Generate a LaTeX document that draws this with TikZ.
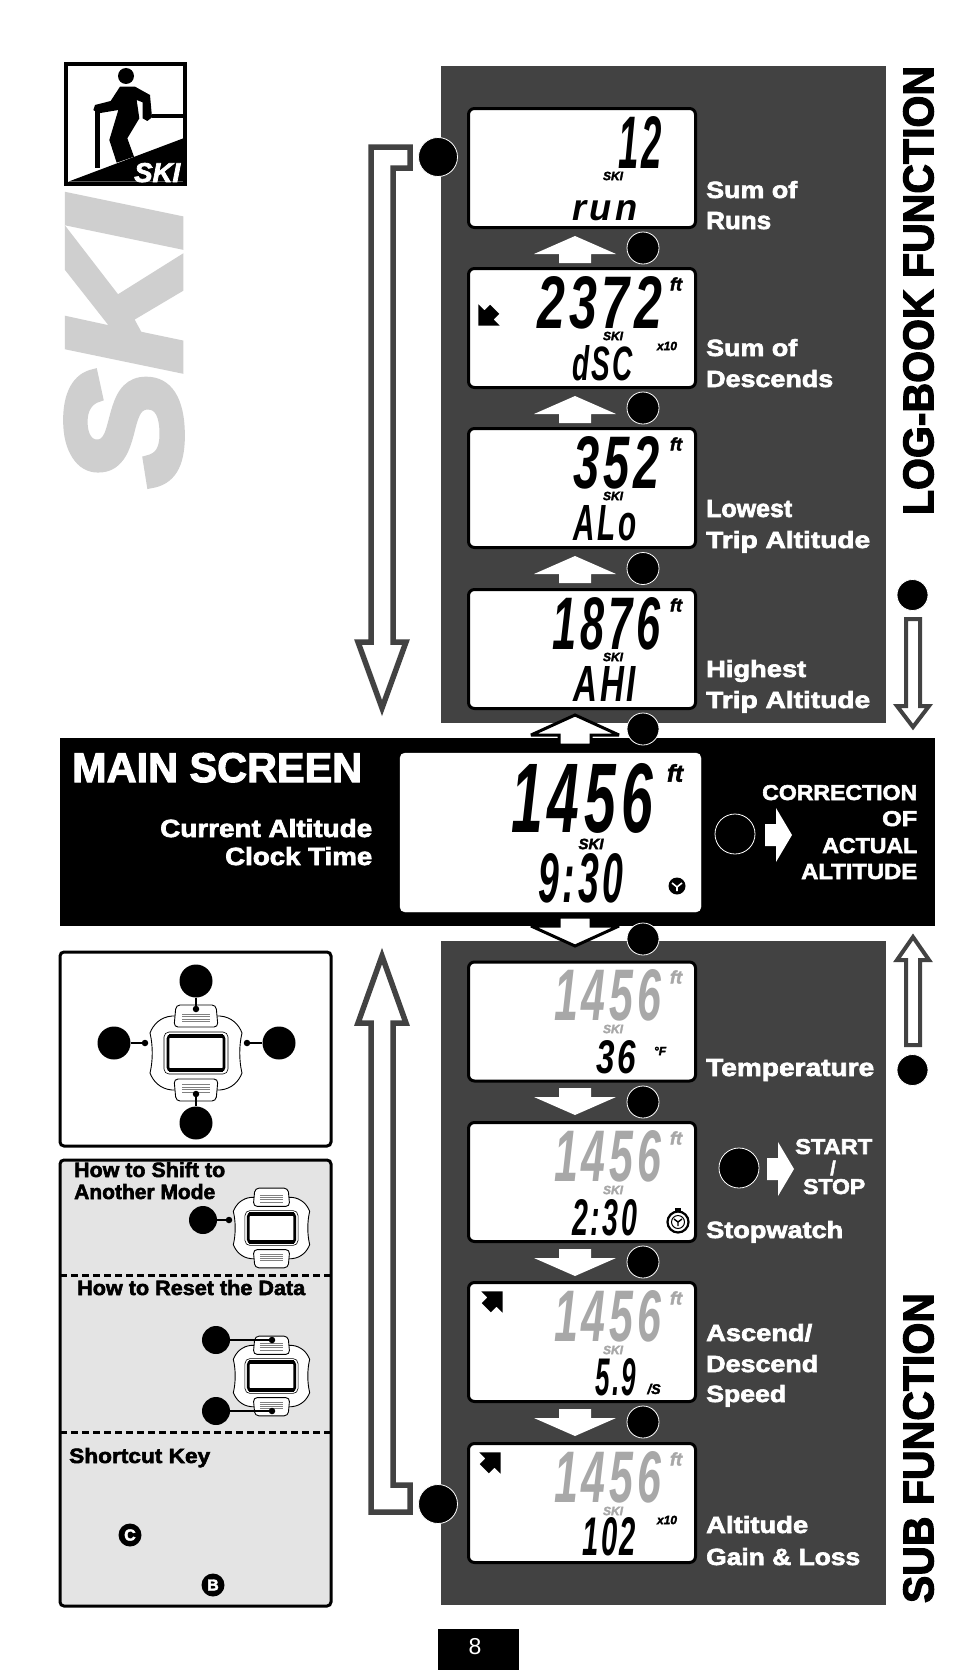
\documentclass[tikz,border=0pt]{standalone}
\usepackage{graphicx}
\usepackage{fontspec}
\setmainfont{Liberation Sans}
\newfontfamily\blk[UprightFont={* Bold},FakeBold=2.6]{Liberation Sans}
\newfontfamily\blkit[UprightFont={* Bold Italic},FakeBold=2.5]{Liberation Sans}
\newfontfamily\heavyit[UprightFont={* Bold Italic},FakeBold=5]{Liberation Sans}
\newfontfamily\lcdf[UprightFont={* Bold Italic},LetterSpace=9]{Liberation Sans}
\definecolor{panel}{HTML}{424242}
\definecolor{lcdgrey}{HTML}{A8A8A8}
\definecolor{boxgrey}{HTML}{E4E4E4}
\definecolor{skigrey}{HTML}{CFCFCF}
\newcount\nn
% left, baseline, width, height, style, text
\newcommand\ftxt[6]{\global\advance\nn by 1 \node[inner sep=0,anchor=base west,#5,name=t\the\nn] at (#1,#2) {\resizebox{#3pt}{#4pt}{#6}};}
\newcommand\ctxt[5]{\global\advance\nn by 1 \node[inner sep=0,anchor=center,#4,name=t\the\nn] at (#1,#2) {\fontsize{#3}{#3}\selectfont #5};}
\newcommand\lcdbox[2]{\node[lcdframe] (#1) at (582,#2) {};}
\newcommand\uparr[1]{\fill[white,shift={(575,#1)}] (0,0) -- (41,18) -- (16,18) -- (16,27) -- (-16,27) -- (-16,18) -- (-41,18) -- cycle;}
\newcommand\dnarr[1]{\fill[white,shift={(575,#1)},yscale=-1] (0,0) -- (41,18) -- (16,18) -- (16,27) -- (-16,27) -- (-16,18) -- (-41,18) -- cycle;}
\newcommand\rtarr[2]{\fill[white,shift={(#1,#2)}] (27,0) -- (11,-27) -- (11,-11) -- (0,-11) -- (0,11) -- (11,11) -- (11,27) -- cycle;}
\newcommand\lcdarrow[3]{\fill[black,shift={(#1,#2)},rotate=#3] (15,0) -- (0,15) -- (0,6.5) -- (-8,6.5) -- (-8,-6.5) -- (0,-6.5) -- (0,-15) -- cycle;}
\newcommand\watch[3]{%
\begin{scope}[shift={(#1,#2)},scale=#3]
\draw[fill=white,line width=.9] (-24,-37) .. controls (-36,-36) and (-43,-28) .. (-46,-20) .. controls (-43,-8) and (-43,8) .. (-46,20) .. controls (-43,28) and (-36,36) .. (-24,37) -- (24,37) .. controls (36,36) and (43,28) .. (46,20) .. controls (43,8) and (43,-8) .. (46,-20) .. controls (43,-28) and (36,-36) .. (24,-37) -- cycle;
\draw[fill=white,line width=.6,rounded corners=5] (-32,-21) rectangle (32,21);
\draw[line width=2.6,rounded corners=3] (-28,-17.5) rectangle (28,17.5);
\fill (-27,-19) rectangle (27,-15); \fill (-27,15) rectangle (27,19);
\foreach \s in {-1,1}{
\begin{scope}[yscale=\s]
\draw[fill=white,line width=.9,rounded corners=4] (-20,-48) -- (20,-48) -- (22,-26) -- (-22,-26) -- cycle;
\foreach \yy in {-39,-36.5,-34,-31.5} \draw[line width=.7,gray] (-14,\yy) -- (14,\yy);
\end{scope}}
\end{scope}}
\tikzset{
  x=1pt,y=-1pt,
  panelfill/.style={fill=panel},
  lcdframe/.style={draw=black,fill=white,line width=3,rounded corners=6,minimum width=227,minimum height=119,inner sep=0},
  btn/.style={circle,fill=black,draw=white,line width=.8,inner sep=0,minimum size=#1},
  blob/.style={circle,fill=black,inner sep=0,minimum size=#1},
  dot/.style={circle,fill=black,inner sep=0,minimum size=6.5},
  wire/.style={line width=1.4,black},
  hollow/.style={draw=panel,fill=white,miter limit=10},
  labw/.style={font=\blk,text=white},
  labk/.style={font=\blk,text=black},
  lcdk/.style={font=\lcdf,text=black},
  lcdg/.style={font=\lcdf,text=lcdgrey},
  smk/.style={font=\blkit,text=black},
  smg/.style={font=\blkit,text=lcdgrey},
}
\begin{document}
\begin{tikzpicture}
\useasboundingbox (0,0) rectangle (954,1670);
\fill[white] (0,0) rectangle (954,1670);
% panels
\fill[panelfill] (441,66) rectangle (886,723);
\fill[panelfill] (441,941) rectangle (886,1605);
% big grey title first, so the icon lies above it
\node[inner sep=0,rotate=90,font=\heavyit,text=skigrey] (bigski) at (124,343) {\resizebox{286pt}{112pt}{SKI}};
% ski icon
\draw[line width=4,fill=white] (66,64) rectangle (185,184);
\begin{scope}[shift={(40,40)},scale=1/3]
\fill (85,425) -- (430,295) -- (430,425) -- cycle;
\fill (258,108) circle (24);
\fill (240,140) -- (285,140) -- (330,165) -- (336,232) -- (322,243) -- (308,235) -- (308,187) -- (290,180) -- (298,235) -- (262,295) -- (282,350) -- (230,368) -- (208,300) -- (235,210) -- (175,220) -- (160,210) -- (165,195) -- (212,183) -- cycle;
\draw[line width=5] (172,205) -- (172,385);
\draw[line width=4] (336,228) -- (430,228);
\end{scope}
\ftxt{134}{182}{46}{19}{font=\blkit,text=white}{SKI}
% big hollow arrows
\draw[hollow,line width=5.5] (371,147) -- (410,147) -- (410,168) -- (393,168) -- (393,642) -- (406,642) -- (382,708) -- (358,642) -- (371,642) -- cycle;
\draw[hollow,line width=5.5] (371,1512) -- (410,1512) -- (410,1485) -- (393,1485) -- (393,1023) -- (406,1023) -- (382,956) -- (358,1023) -- (371,1023) -- cycle;
\node[btn=39] (bigtop) at (438,157) {};
\node[btn=39] (bigbot) at (438,1504) {};
% small hollow arrows
\draw[hollow,line width=4] (906,619) -- (920,619) -- (920,706) -- (929,706) -- (913,727) -- (897,706) -- (906,706) -- cycle;
\draw[hollow,line width=4] (906,1045) -- (920,1045) -- (920,960) -- (929,960) -- (913,937) -- (897,960) -- (906,960) -- cycle;
\node[btn=31] (rtop) at (912.5,595) {};
\node[btn=31] (rbot) at (912.5,1070) {};
% main band
\fill[black] (60,738) rectangle (935,926);
\draw[white,fill=white,rounded corners=5] (400,753) rectangle (701,912);
% outlined arrows at the band
\draw[draw=black,fill=white,line width=3,miter limit=3,shift={(575,715)}] (0,0) -- (44,20) -- (16,20) -- (16,30) -- (-16,30) -- (-16,20) -- (-44,20) -- cycle;
\draw[draw=black,fill=white,line width=3,miter limit=3,shift={(575,946)},yscale=-1] (0,0) -- (44,20) -- (16,20) -- (16,29) -- (-16,29) -- (-16,20) -- (-44,20) -- cycle;
\node[btn=32] at (643,729) {};
\node[btn=32] at (643,939) {};
% LCD frames
\lcdbox{l1}{168}\lcdbox{l2}{328}\lcdbox{l3}{488}\lcdbox{l4}{649}
\lcdbox{l5}{1021.5}\lcdbox{l6}{1182}\lcdbox{l7}{1342}\lcdbox{l8}{1503}
% up arrows / buttons
\uparr{236}\uparr{396}\uparr{556}
\node[btn=32] at (643,248) {};
\node[btn=32] at (643,408) {};
\node[btn=32] at (643,568.5) {};
\dnarr{1115}\dnarr{1276}\dnarr{1436}
\node[btn=32] at (643,1102) {};
\node[btn=32] at (643,1262) {};
\node[btn=32] at (643,1422) {};
% LCD 1
\ftxt{618}{168}{44}{52}{lcdk}{12}
\ctxt{613}{176}{12}{smk}{SKI}
\ftxt{572}{220}{65}{20}{lcdk}{run}
% LCD 2
\ftxt{537}{328}{125}{52}{lcdk}{2372}
\ctxt{676}{284}{18}{smk}{ft}
\ctxt{613}{336}{12}{smk}{SKI}
\ftxt{572}{380}{61}{35}{lcdk}{dSC}
\ctxt{667}{346}{12}{smk}{x10}
\lcdarrow{489}{315}{225}
% LCD 3
\ftxt{573}{488}{87}{52}{lcdk}{352}
\ctxt{676}{444}{18}{smk}{ft}
\ctxt{613}{496}{12}{smk}{SKI}
\ftxt{573}{540}{63}{35}{lcdk}{ALo}
% LCD 4
\ftxt{552}{649}{108}{52}{lcdk}{1876}
\ctxt{676}{605}{18}{smk}{ft}
\ctxt{613}{657}{12}{smk}{SKI}
\ftxt{573}{701}{63}{35}{lcdk}{AHI}
% main LCD
\ftxt{511}{832}{142}{69}{lcdk}{1456}
\ctxt{675}{773}{24}{smk}{ft}
\ctxt{591}{844}{15}{smk}{SKI}
\ftxt{538}{902}{85}{49}{lcdk}{9:30}
\node[circle,fill=black,inner sep=0,minimum size=17] (clock) at (677,886) {};
\draw[white,line width=1.6] (677,887) -- (677,891) (677,887) -- (672,883) (677,887) -- (682,883);
% LCD 5
\ftxt{554}{1020}{107}{51}{lcdg}{1456}
\ctxt{676}{977}{18}{smg}{ft}
\ctxt{613}{1029}{12}{smg}{SKI}
\ftxt{596}{1073}{40}{33}{lcdk}{36}
\ctxt{660}{1051}{12}{smk}{°F}
% LCD 6
\ftxt{554}{1181}{107}{51}{lcdg}{1456}
\ctxt{676}{1138}{18}{smg}{ft}
\ctxt{613}{1190}{12}{smg}{SKI}
\ftxt{572}{1235}{65}{36}{lcdk}{2:30}
\draw[line width=2.2,fill=white] (678,1222) circle (10.5);
\fill (675,1208) rectangle (681,1212);
\draw[line width=1] (678,1222) circle (6.5);
\draw[line width=1.4] (678,1222) -- (678,1226) (678,1222) -- (674,1219) (678,1222) -- (682,1219);
% LCD 7
\ftxt{554}{1341}{107}{51}{lcdg}{1456}
\ctxt{676}{1298}{18}{smg}{ft}
\ctxt{613}{1350}{12}{smg}{SKI}
\ftxt{595}{1395}{41}{37}{lcdk}{5.9}
\ctxt{654}{1389}{14}{smk}{/S}
\lcdarrow{492}{1302}{45}
% LCD 8
\ftxt{554}{1502}{107}{51}{lcdg}{1456}
\ctxt{676}{1459}{18}{smg}{ft}
\ctxt{613}{1511}{12}{smg}{SKI}
\ftxt{582}{1555}{54}{38}{lcdk}{102}
\ctxt{667}{1520}{12}{smk}{x10}
\lcdarrow{490}{1463}{45}
% labels upper
\ftxt{706}{198}{91}{17}{labw}{Sum of}
\ftxt{706}{229}{65}{17}{labw}{Runs}
\ftxt{706}{356}{91}{17}{labw}{Sum of}
\ftxt{706}{387}{127}{17}{labw}{Descends}
\ftxt{706}{517}{86}{17}{labw}{Lowest}
\ftxt{706}{548}{164}{17}{labw}{Trip Altitude}
\ftxt{706}{677}{100}{17}{labw}{Highest}
\ftxt{706}{708}{164}{17}{labw}{Trip Altitude}
% labels lower
\ftxt{706}{1076}{168}{17}{labw}{Temperature}
\ftxt{706}{1238}{137}{17}{labw}{Stopwatch}
\ftxt{706}{1341}{106}{17}{labw}{Ascend/}
\ftxt{706}{1372}{112}{17}{labw}{Descend}
\ftxt{706}{1402}{80}{17}{labw}{Speed}
\ftxt{706}{1533}{102}{17}{labw}{Altitude}
\ftxt{706}{1565}{154}{17}{labw}{Gain \& Loss}
% start stop
\node[btn=40] (ssb) at (739,1168) {};
\rtarr{767}{1169}
\ftxt{795}{1154}{77}{15}{labw}{START}
\ctxt{833}{1168}{20}{labw}{/}
\ftxt{803}{1194}{62}{15}{labw}{STOP}
% band texts
\ftxt{72}{782}{290}{29}{labw}{MAIN SCREEN}
\ftxt{160}{837}{212}{18}{labw}{Current Altitude}
\ftxt{225}{865}{147}{18}{labw}{Clock Time}
\node[btn=40] (corr) at (735,834) {};
\rtarr{765}{835}
\ftxt{762}{800}{155}{15}{labw}{CORRECTION}
\ftxt{882}{826}{35}{15}{labw}{OF}
\ftxt{822}{853}{95}{15}{labw}{ACTUAL}
\ftxt{801}{879}{116}{15}{labw}{ALTITUDE}
% vertical titles
\node[inner sep=0,rotate=90,font=\blk,text=black] (logbook) at (918.5,290.5) {\resizebox{449pt}{30pt}{LOG-BOOK FUNCTION}};
\node[inner sep=0,rotate=90,font=\blk,text=black] (subfn) at (918.5,1448) {\resizebox{310pt}{30pt}{SUB FUNCTION}};
% left boxes
\draw[line width=3,rounded corners=4,fill=white] (60,952) rectangle (331,1146);
\draw[line width=3,rounded corners=4,fill=boxgrey] (60,1160) rectangle (331,1606);
\draw[line width=3,dash pattern=on 7pt off 4pt] (60,1275) -- (331,1275);
\draw[line width=3,dash pattern=on 7pt off 4pt] (60,1432) -- (331,1432);
% watch big
\watch{196}{1053}{1}
\node[blob=33] (kt) at (196,981) {};
\node[blob=33] (kl) at (114,1043) {};
\node[blob=33] (kr) at (279,1043) {};
\node[blob=33] (kb) at (196,1123) {};
\node[dot] (dt) at (196,1009) {};
\node[dot] (dl) at (145,1043) {};
\node[dot] (dr) at (247,1043) {};
\node[dot] (db) at (196,1094) {};
\draw[wire] (kt) -- (dt);
\draw[wire] (kl) -- (dl);
\draw[wire] (kr) -- (dr);
\draw[wire] (kb) -- (db);
% shift to mode
\ftxt{74}{1177}{151}{15}{labk}{How to Shift to}
\ftxt{74}{1199}{141}{15}{labk}{Another Mode}
\watch{271.5}{1228}{.83}
\node[blob=28] (ks) at (203,1220) {};
\node[dot] (ds) at (229,1220) {};
\draw[wire] (ks) -- (ds);
% reset
\ftxt{77}{1295}{228}{15}{labk}{How to Reset the Data}
\watch{271.5}{1376}{.83}
\node[blob=28] (kr1) at (216,1340) {};
\node[dot] (dr1) at (272,1340) {};
\node[blob=28] (kr2) at (216,1411) {};
\node[dot] (dr2) at (272,1411) {};
\draw[wire] (kr1) -- (dr1);
\draw[wire] (kr2) -- (dr2);
% shortcut
\ftxt{69}{1463}{141}{15}{labk}{Shortcut Key}
\node[blob=23,font=\blk\fontsize{16}{16}\selectfont,text=white] (bc) at (130,1535) {C};
\node[blob=23,font=\blk\fontsize{16}{16}\selectfont,text=white] (bb) at (213,1585) {B};
% page number
\fill[black] (438,1629) rectangle (519,1670);
\node[inner sep=0,text=white,font=\fontsize{23}{23}\selectfont] (pg) at (475,1647) {8};
\end{tikzpicture}
\end{document}
